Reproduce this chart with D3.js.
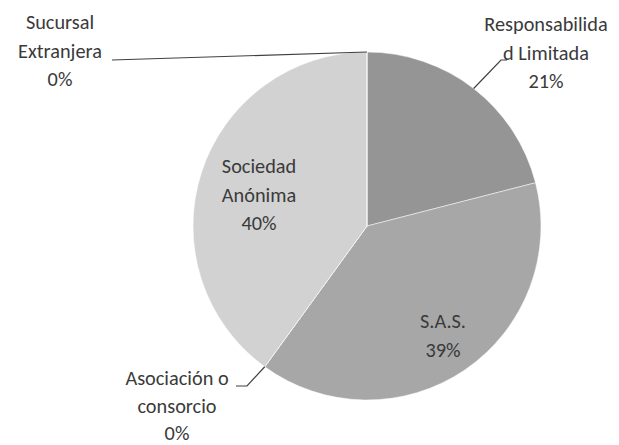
<!DOCTYPE html>
<html>
<head>
<meta charset="utf-8">
<script src="https://cdn.jsdelivr.net/npm/d3@7"></script>
<style>
  html, body { margin: 0; padding: 0; background: #fff; }
  svg { display: block; }
  text { font-family: Carlito, Calibri, "Open Sans", sans-serif; fill: #3a3a3a; }
</style>
</head>
<body>
<svg id="chart" width="619" height="445"></svg>
<script>
// Company types and their share of the total (percent), clockwise from 12 o'clock
const categories = [
  ["Responsabilida", "d Limitada"],
  ["S.A.S."],
  ["Asociación o", "consorcio"],
  ["Sociedad", "Anónima"],
  ["Sucursal", "Extranjera"]
];
const shares = [21, 39, 0, 40, 0];
const fills = ["#959595", "#a7a7a7", "#a7a7a7", "#d2d2d2", "#d2d2d2"];

// Label block centres (x, y of first line), line spacing and leader-line anchors
const labelSpots = [
  { x: 546, y: 25, gap: 28.2, leader: [[507, 60], [501, 60]] },
  { x: 443, y: 322, gap: 28.2 },
  { x: 177, y: 379, gap: 27.2, leader: [[236, 386], [247, 386]] },
  { x: 259, y: 167, gap: 28.2 },
  { x: 60, y: 23, gap: 28.2, leader: [[112, 60]] }
];

const width = 619, height = 445;
const cx = 367, cy = 226, R = 174;

const svg = d3.select("#chart");
const g = svg.append("g").attr("transform", `translate(${cx},${cy})`);

const pie = d3.pie().sort(null).value(d => d)(shares);
const arc = d3.arc().innerRadius(0).outerRadius(R);

g.selectAll("path.slice")
  .data(pie)
  .join("path")
  .attr("class", "slice")
  .attr("d", arc)
  .attr("fill", (d, i) => fills[i])
  .attr("stroke", "#ffffff")
  .attr("stroke-width", 0.5);

// Point on the rim, at the middle of a slice, where a leader line ends
function rimPoint(d) {
  const a = (d.startAngle + d.endAngle) / 2;
  return [cx + R * Math.sin(a), cy - R * Math.cos(a)];
}

const line = d3.line();
pie.forEach((d, i) => {
  const spot = labelSpots[i];
  if (spot.leader) {
    const pts = spot.leader.concat([rimPoint(d)]);
    svg.append("path")
      .attr("d", line(pts))
      .attr("fill", "none")
      .attr("stroke", "#404040")
      .attr("stroke-width", 1.2);
  }
  const lines = categories[i].concat([d3.format(".0f")(d.value) + "%"]);
  const t = svg.append("text")
    .attr("text-anchor", "middle")
    .attr("font-size", 20.3);
  lines.forEach((s, k) => {
    t.append("tspan")
      .attr("x", spot.x)
      .attr("y", spot.y + k * spot.gap)
      .attr("dy", "0.32em")
      .text(s);
  });
});
</script>
</body>
</html>
